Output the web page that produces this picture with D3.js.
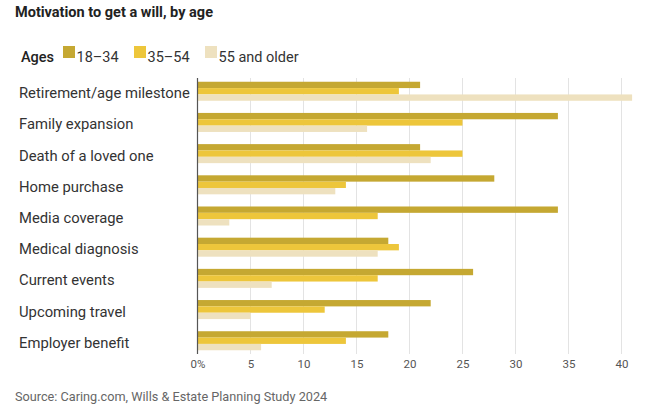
<!DOCTYPE html>
<html><head><meta charset="utf-8">
<script src="https://cdn.jsdelivr.net/npm/d3@7"></script>
<style>body{margin:0;background:#fff;} text{font-family:Roboto, "Noto Sans", sans-serif;}</style>
</head><body>
<svg id="c" width="645" height="409"></svg>
<script>
const categories = ["Retirement/age milestone","Family expansion","Death of a loved one","Home purchase","Media coverage","Medical diagnosis","Current events","Upcoming travel","Employer benefit"];
const seriesNames = ["18–34","35–54","55 and older"];
const s1834 = [21,34,21,28,34,18,26,22,18];
const s3554 = [19,25,25,14,17,19,17,12,14];
const s55 = [41,16,22,13,3,17,7,5,6];
const tickValues = [0,5,10,15,20,25,30,35,40];
const colors = ["#c5a832","#edc63b","#eee1bf"];
const series = [s1834, s3554, s55];

const svg = d3.select("#c");
const x = d3.scaleLinear().domain([0,40]).range([197.5,621.5]);
const y = d3.scaleBand().domain(categories).range([78,354]).paddingInner(0.39).paddingOuter(0.12);
const yi = d3.scaleBand().domain(d3.range(3)).range([0,y.bandwidth()]);

svg.append("text").attr("x",15).attr("y",17).attr("font-size",14.5).attr("font-weight",700).attr("fill","#222").text("Motivation to get a will, by age");

// legend
const lg = svg.append("g");
lg.append("text").attr("x",21).attr("y",62).attr("font-size",14.5).attr("font-weight",500).attr("fill","#222").text("Ages");
const lx = [63,134,205];
seriesNames.forEach((n,i)=>{
  lg.append("rect").attr("x",lx[i]).attr("y",46).attr("width",12).attr("height",12).attr("fill",colors[i]);
  lg.append("text").attr("x",lx[i]+13.5).attr("y",62).attr("font-size",14.5).attr("fill","#333").text(n);
});

// grid
svg.append("g").selectAll("line").data(tickValues.filter(d=>d>0)).join("line")
  .attr("x1",d=>x(d)).attr("x2",d=>x(d)).attr("y1",78).attr("y2",354)
  .attr("stroke","#e3e3e3").attr("stroke-width",1);

// bars
const g = svg.append("g");
categories.forEach((c,ci)=>{
  series.forEach((s,si)=>{
    g.append("rect").attr("x",x(0)).attr("y",y(c)+yi(si)).attr("width",x(s[ci])-x(0)).attr("height",yi.bandwidth())
      .attr("fill",colors[si]);
  });
});

// axis line
svg.append("line").attr("x1",x(0)).attr("x2",x(0)).attr("y1",78).attr("y2",354).attr("stroke","#555").attr("stroke-width",1.2);

// category labels
svg.append("g").selectAll("text").data(categories).join("text")
  .attr("x",19).attr("y",d=>y(d)+y.bandwidth()/2+7).attr("font-size",14.8).attr("fill","#333").text(d=>d);

// x axis
const xa = d3.axisBottom(x).tickValues(tickValues).tickSize(0).tickFormat(d=>d===0?"0%":d);
const ax = svg.append("g").attr("transform","translate(0,356)").call(xa);
ax.select(".domain").remove();
ax.selectAll("text").attr("font-size",11.5).attr("fill","#555").attr("dy","0.71em").attr("y",4);

svg.append("text").attr("x",15).attr("y",401).attr("font-size",12.7).attr("fill","#666").text("Source: Caring.com, Wills & Estate Planning Study 2024");
</script>
</body></html>
